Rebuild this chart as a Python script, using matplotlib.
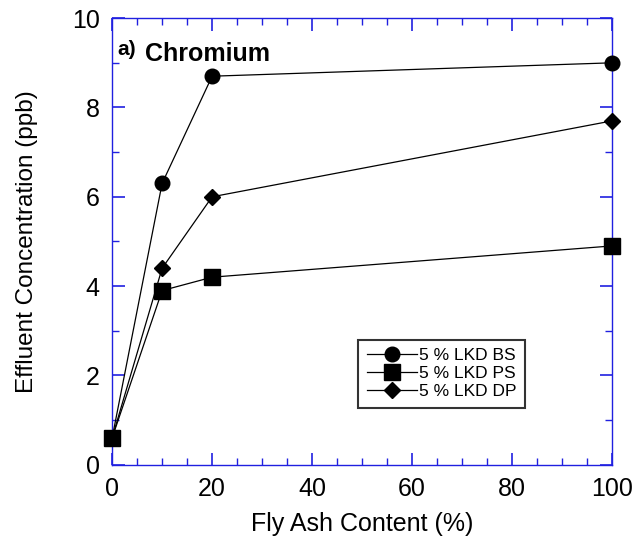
import numpy as np
import matplotlib.pyplot as plt
from matplotlib.ticker import MultipleLocator

plt.rcParams['font.family'] = ['Liberation Sans', 'DejaVu Sans']

fly_ash = [0, 10, 20, 100]
lkd_bs = [0.6, 6.3, 8.7, 9.0]
lkd_ps = [0.6, 3.9, 4.2, 4.9]
lkd_dp = [0.6, 4.4, 6.0, 7.7]
labels = ['5 % LKD BS', '5 % LKD PS', '5 % LKD DP']

fig = plt.figure(figsize=(6.37, 5.5), dpi=100)
ax = fig.add_axes([0.176, 0.155, 0.785, 0.812])

ax.plot(fly_ash, lkd_bs, '-o', color='black', lw=0.9, ms=10.5, label=labels[0], clip_on=False, zorder=3)
ax.plot(fly_ash, lkd_ps, '-s', color='black', lw=0.9, ms=11.5, label=labels[1], clip_on=False, zorder=3)
ax.plot(fly_ash, lkd_dp, '-D', color='black', lw=0.9, ms=8, label=labels[2], clip_on=False, zorder=3)

ax.set_xlim(0, 100)
ax.set_ylim(0, 10)
ax.xaxis.set_major_locator(MultipleLocator(20))
ax.xaxis.set_minor_locator(MultipleLocator(5))
ax.yaxis.set_major_locator(MultipleLocator(2))
ax.yaxis.set_minor_locator(MultipleLocator(1))

blue = '#2020e0'
for s in ax.spines.values():
    s.set_color(blue)
    s.set_linewidth(1.0)
ax.tick_params(which='both', direction='in', top=True, right=True, color=blue, labelsize=18, pad=9)
ax.tick_params(which='major', length=9, width=1.2)
ax.tick_params(which='minor', length=5, width=1.0)

ax.set_xlabel('Fly Ash Content (%)', fontsize=18, labelpad=8)
ax.set_ylabel('Effluent Concentration (ppb)', fontsize=17.5, labelpad=24)

ax.text(1, 9.3, 'a)', fontsize=15, fontweight='bold', va='center', ha='left')
ax.text(6.5, 9.2, 'Chromium', fontsize=18, fontweight='bold', va='center', ha='left')

leg = ax.legend(loc='lower left', bbox_to_anchor=(0.492, 0.128), borderaxespad=0, fontsize=12.5,
                frameon=True, fancybox=False, edgecolor='black', handlelength=2.9,
                handletextpad=0.1, borderpad=0.5, labelspacing=0.15)
leg.get_frame().set_linewidth(1.5)

fig.savefig('out.png', dpi=100)
